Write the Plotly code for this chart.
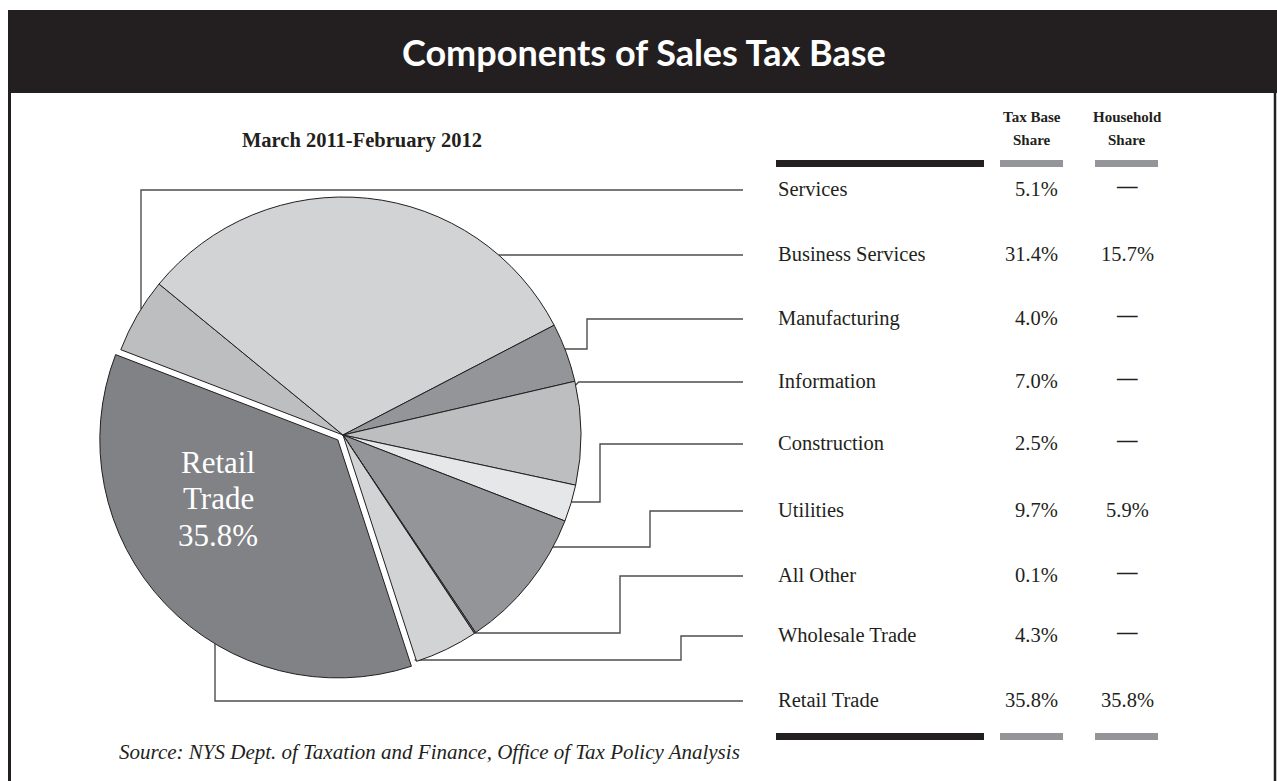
import math
import plotly.graph_objects as go

# ---------------- data ----------------
categories = ["Services", "Business Services", "Manufacturing", "Information",
              "Construction", "Utilities", "All Other", "Wholesale Trade", "Retail Trade"]
tax_base_share = [5.1, 31.4, 4.0, 7.0, 2.5, 9.7, 0.1, 4.3, 35.8]
household_share = [None, 15.7, None, None, None, 5.9, None, None, 35.8]
slice_colors = ["#bcbec0", "#d1d3d4", "#939598", "#bcbec0", "#e6e7e8",
                "#939598", "#6d6e71", "#d1d3d4", "#808285"]
title_text = "Components of Sales Tax Base"
subtitle_text = "March 2011-February 2012"
col_headers = [["Tax Base", "Share"], ["Household", "Share"]]
source_text = "Source: NYS Dept. of Taxation and Finance, Office of Tax Policy Analysis"

# ---------------- layout constants (pixels) ----------------
W, H = 1277, 781
CX, CY, R = 343, 435, 238
PULL = 0.03
ROT = 291  # start angle of first slice, clockwise from 12 o'clock
SERIF = "Liberation Serif"
LINE_COLOR = "#4d4d4f"
INK = "#231f20"

row_y = [190, 255, 319, 382, 444, 511, 576, 636, 701]
label_x = 776
line_end_x = 743
val_right_x = 1060
hh_center_x = 1127


def px(x):
    return x / W


def py(y):
    return 1 - y / H


fig = go.Figure()
D = R * (1 + PULL)
fig.add_trace(go.Pie(
    values=tax_base_share,
    labels=categories,
    sort=False,
    direction="clockwise",
    rotation=ROT - 360,
    marker=dict(colors=slice_colors, line=dict(color=INK, width=1)),
    pull=[0] * (len(categories) - 1) + [PULL],
    textinfo="none",
    hoverinfo="label+value",
    showlegend=False,
    domain=dict(x=[px(CX - D), px(CX + D)], y=[py(CY + D), py(CY - D)]),
))

# slice angles from data (for connectors)
total = sum(tax_base_share)
starts, ends = [], []
acc = ROT
for v in tax_base_share:
    starts.append(acc)
    acc += v / total * 360
    ends.append(acc)
mids = [(a + b) / 2 for a, b in zip(starts, ends)]


def pt_at_angle(ang, cx=CX, cy=CY):
    a = math.radians(ang)
    return cx + R * math.sin(a), cy - R * math.cos(a)


def x_on_circle(y):
    return CX + math.sqrt(R ** 2 - (y - CY) ** 2)


shapes = []


def seg(points):
    path = "M " + " L ".join(f"{px(x)},{py(y)}" for x, y in points)
    shapes.append(dict(type="path", path=path, xref="paper", yref="paper",
                       line=dict(color=LINE_COLOR, width=1.4), layer="below"))


# Services: vertical from top of slice
sx = 141
sy = CY - math.sqrt(R ** 2 - (sx - CX) ** 2)
seg([(sx, sy), (sx, row_y[0]), (line_end_x, row_y[0])])
# Business services: straight
seg([(x_on_circle(row_y[1]), row_y[1]), (line_end_x, row_y[1])])
# Manufacturing: elbow
ym = 349
seg([(x_on_circle(ym), ym), (587, ym), (587, row_y[2]), (line_end_x, row_y[2])])
# Information: straight
yi = row_y[3] + 3
seg([(x_on_circle(yi), yi), (x_on_circle(yi) + 3, row_y[3]), (line_end_x, row_y[3])])
# Construction
yc = 502
seg([(x_on_circle(yc), yc), (600, yc), (600, row_y[4]), (line_end_x, row_y[4])])
# Utilities
yu = 547
seg([(x_on_circle(yu), yu), (650, yu), (650, row_y[5]), (line_end_x, row_y[5])])
# All other: to its slice on the rim
ax, ay = pt_at_angle(mids[6])
seg([(ax, ay), (620, ay), (620, row_y[6]), (line_end_x, row_y[6])])
# Wholesale
yw = 660
seg([(x_on_circle(yw) - 6, yw), (681, yw), (681, row_y[7]), (line_end_x, row_y[7])])
# Retail (pulled slice)
off = PULL * R
rcx = CX + off * math.sin(math.radians(mids[8]))
rcy = CY - off * math.cos(math.radians(mids[8]))
rx = 215
ry = rcy + math.sqrt(R ** 2 - (rx - rcx) ** 2)
seg([(rx, ry), (rx, row_y[8]), (line_end_x, row_y[8])])

# header bar and frame
shapes.append(dict(type="rect", xref="paper", yref="paper", x0=px(8), x1=px(W), y0=py(93), y1=py(10),
                   fillcolor=INK, line=dict(width=0), layer="above"))
shapes.append(dict(type="line", xref="paper", yref="paper", x0=px(9.5), x1=px(9.5), y0=py(92), y1=py(H),
                   line=dict(color=INK, width=3)))
shapes.append(dict(type="line", xref="paper", yref="paper", x0=px(1275), x1=px(1275), y0=py(92), y1=py(H),
                   line=dict(color=INK, width=2.5)))

# table bars
for ytop in (160, 733):
    shapes.append(dict(type="rect", xref="paper", yref="paper", x0=px(776), x1=px(984), y0=py(ytop + 7),
                       y1=py(ytop), fillcolor=INK, line=dict(width=0)))
    for x0, x1 in ((1000, 1063), (1095, 1158)):
        shapes.append(dict(type="rect", xref="paper", yref="paper", x0=px(x0), x1=px(x1), y0=py(ytop + 7),
                           y1=py(ytop), fillcolor="#939598", line=dict(width=0)))

annotations = []


def ann(text, x, y, size, color=INK, xanchor="center", family=SERIF, **kw):
    annotations.append(dict(text=text, x=px(x), y=py(y), xref="paper", yref="paper",
                            xanchor=xanchor, yanchor="middle", showarrow=False,
                            font=dict(family=family, size=size, color=color), **kw))


ann(f"<b>{title_text}</b>", 644, 52, 36, color="white", family="Lato")
ann(f"<b>{subtitle_text}</b>", 362, 140, 20.5)
for cx_, lines in zip((1032, 1127), col_headers):
    ann(f"<b>{lines[0]}</b>", cx_, 117, 15)
    ann(f"<b>{lines[1]}</b>", cx_, 140, 15)

for i, cat in enumerate(categories):
    y = row_y[i] - 1
    ann(cat, label_x, y, 20.5, xanchor="left")
    ann(f"{tax_base_share[i]:.1f}%", val_right_x, y, 20.5, xanchor="right")
    hh = household_share[i]
    if hh is None:
        ann("<b>—</b>", hh_center_x, y - 3, 20.5)
    else:
        ann(f"{hh:.1f}%", hh_center_x, y, 20.5)

retail_lines = categories[-1].split(" ") + [f"{tax_base_share[-1]:.1f}%"]
for k, t in enumerate(retail_lines):
    ann(t, 218, 462 + 36.5 * k, 31, color="white")
ann(f"<i>{source_text}</i>", 429, 752, 21)

fig.update_layout(
    width=W, height=H,
    margin=dict(l=0, r=0, t=0, b=0),
    paper_bgcolor="white", plot_bgcolor="white",
    shapes=shapes, annotations=annotations,
    showlegend=False,
)

fig.write_html("out.html", config={"displayModeBar": False},
               post_script="document.body.style.margin='0px';document.body.style.overflow='hidden';")
